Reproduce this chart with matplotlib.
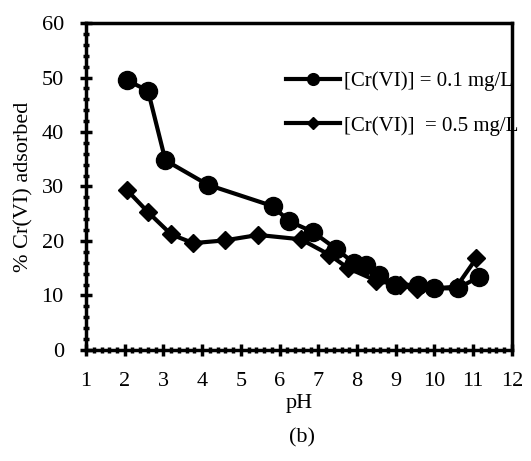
import matplotlib
matplotlib.use("Agg")
import matplotlib.pyplot as plt
from matplotlib.ticker import MultipleLocator

plt.rcParams['font.family'] = ['Liberation Serif', 'DejaVu Serif']

ph_01 = [2.05, 2.6, 3.05, 4.15, 5.82, 6.25, 6.85, 7.45, 7.93, 8.23, 8.58, 8.97, 9.57, 10.0, 10.6, 11.15]
ads_01 = [49.5, 47.6, 34.8, 30.3, 26.4, 23.6, 21.7, 18.6, 15.9, 15.5, 13.7, 12.0, 11.9, 11.3, 11.3, 13.4]

ph_05 = [2.05, 2.6, 3.2, 3.77, 4.58, 5.45, 6.55, 7.28, 7.77, 8.5, 9.1, 9.55, 10.0, 10.57, 11.08]
ads_05 = [29.4, 25.3, 21.2, 19.6, 20.1, 21.1, 20.3, 17.5, 15.0, 12.7, 11.9, 11.1, 11.3, 11.6, 16.8]

fig = plt.figure(figsize=(5.31, 4.61), dpi=100)
ax = fig.add_axes([0.162, 0.241, 0.802, 0.709])

ax.plot(ph_01, ads_01, color='black', lw=3, marker='o', ms=13, label='[Cr(VI)] = 0.1 mg/L')
ax.plot(ph_05, ads_05, color='black', lw=3, marker='D', ms=9, label='[Cr(VI)]  = 0.5 mg/L')

ax.set_xlim(1, 12)
ax.set_ylim(0, 60)
ax.xaxis.set_major_locator(MultipleLocator(1))
ax.xaxis.set_minor_locator(MultipleLocator(0.2))
ax.yaxis.set_major_locator(MultipleLocator(10))
ax.yaxis.set_minor_locator(MultipleLocator(2))
ax.tick_params(which='both', direction='inout', width=2.5, labelsize=16, top=False, right=False)
ax.tick_params(which='major', length=8, pad=12)
ax.tick_params(which='minor', length=5)
for s in ax.spines.values():
    s.set_linewidth(2.5)

ax.set_xlabel('pH', fontsize=16, labelpad=2)
ax.set_ylabel('% Cr(VI) adsorbed', fontsize=16, labelpad=6)

leg = ax.legend(loc='upper right', bbox_to_anchor=(1.06, 0.91), frameon=False, fontsize=15,
                handlelength=2.6, handletextpad=0.2, labelspacing=1.2, markerscale=0.65)

fig.text(0.568, 0.04, '(b)', ha='center', fontsize=16)

fig.savefig('out.png', dpi=100)
